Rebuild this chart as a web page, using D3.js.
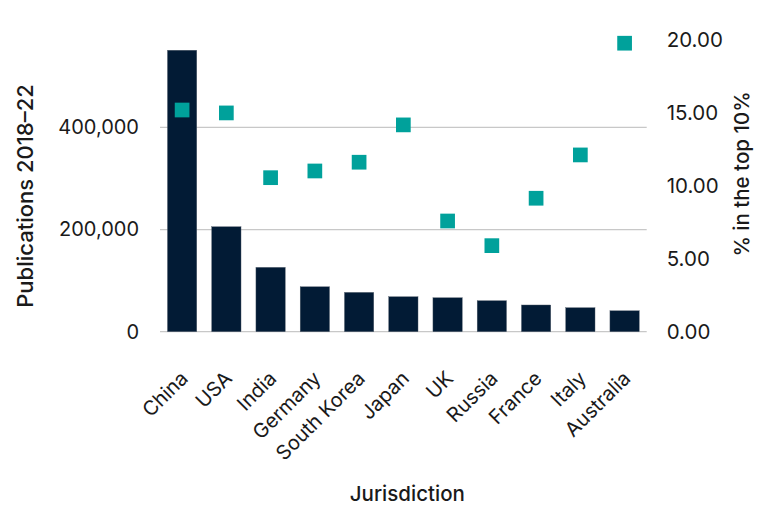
<!DOCTYPE html>
<html><head><meta charset="utf-8">
<script src="https://cdn.jsdelivr.net/npm/d3@7"></script>
<style>
body{margin:0;background:#fff;}
text{font-family:Inter, "Liberation Sans", sans-serif;fill:#1a1a1a;}
</style></head><body>
<svg id="c" width="780" height="520"></svg>
<script>
const categories = ["China","USA","India","Germany","South Korea","Japan","UK","Russia","France","Italy","Australia"];
const publications = [551000,205500,126000,88000,77000,68500,66500,60700,52300,47000,41000];
const top10pct = [15.2,15.0,10.56,11.02,11.62,14.18,7.59,5.9,9.15,12.12,19.78];
const leftTicks = [0,200000,400000];
const rightTicks = [0,5,10,15,20];

const svg = d3.select("#c");
const x0 = 160, x1 = 646.7, yBase = 331.7, yTop = 40;
const x = d3.scaleBand().domain(categories).range([x0,x1]).paddingInner(0.337).paddingOuter(0.168);
const yL = d3.scaleLinear().domain([0,571000]).range([yBase,yTop]);
const yR = d3.scaleLinear().domain([0,20]).range([yBase,yTop]);

// gridlines
svg.append("g").selectAll("line").data(leftTicks).join("line")
  .attr("x1",x0).attr("x2",x1).attr("y1",d=>yL(d)).attr("y2",d=>yL(d))
  .attr("stroke","#c8c8c8").attr("stroke-width",1.3);

// bars
svg.append("g").selectAll("rect").data(categories).join("rect")
  .attr("x",d=>x(d)).attr("width",x.bandwidth())
  .attr("y",(d,i)=>yL(publications[i])).attr("height",(d,i)=>yBase-yL(publications[i]))
  .attr("fill","#021b35").attr("stroke","#5a6470").attr("stroke-width",0.4);

// squares
const s = 14.7;
svg.append("g").selectAll("rect").data(categories).join("rect")
  .attr("x",d=>x(d)+x.bandwidth()/2-s/2).attr("width",s)
  .attr("y",(d,i)=>yR(top10pct[i])-s/2).attr("height",s)
  .attr("fill","#00a19b");

// left axis
const axL = d3.axisLeft(yL).tickValues(leftTicks).tickSize(0).tickPadding(21).tickFormat(d3.format(","));
const gL = svg.append("g").attr("transform",`translate(${x0},0)`).call(axL);
gL.select(".domain").remove();
gL.selectAll("text").attr("font-size",20).attr("font-family","Inter, sans-serif").attr("fill","#1a1a1a");

// right axis
const axR = d3.axisRight(yR).tickValues(rightTicks).tickSize(0).tickPadding(20).tickFormat(d3.format(".2f"));
const gR = svg.append("g").attr("transform",`translate(${x1},0)`).call(axR);
gR.select(".domain").remove();
gR.selectAll("text").attr("font-size",20.5).attr("font-family","Inter, sans-serif").attr("fill","#1a1a1a");

// x axis labels
const axB = d3.axisBottom(x).tickSize(0).tickPadding(0);
const gB = svg.append("g").attr("transform",`translate(0,${yBase})`).call(axB);
gB.select(".domain").remove();
gB.selectAll("text").attr("font-size",20).attr("font-family","Inter, sans-serif").attr("fill","#1a1a1a")
  .attr("text-anchor","end").attr("y",null).attr("dy",null)
  .attr("transform","translate(7,48) rotate(-45)");

// axis titles
svg.append("text").attr("x",(x0+x1)/2+4).attr("y",501).attr("text-anchor","middle")
  .attr("font-size",20.5).attr("font-weight",500).text("Jurisdiction");
svg.append("text").attr("transform","translate(33,196) rotate(-90)").attr("text-anchor","middle")
  .attr("font-size",22).attr("font-weight",500).text("Publications 2018–22");
svg.append("text").attr("transform","translate(749,174) rotate(-90)").attr("text-anchor","middle")
  .attr("font-size",20.5).attr("font-weight",500).text("% in the top 10%");
</script></body></html>
